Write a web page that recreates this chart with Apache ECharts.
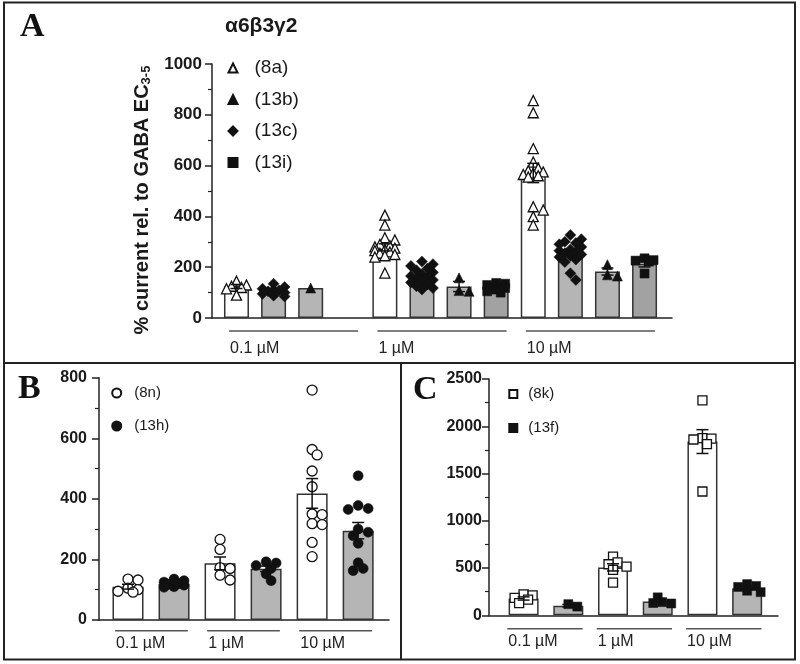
<!DOCTYPE html>
<html><head><meta charset="utf-8">
<script src="https://cdn.jsdelivr.net/npm/echarts@6/dist/echarts.min.js"></script>
<style>html,body{margin:0;padding:0;background:#fff}#c{width:800px;height:664px}</style>
</head><body><div id="c"></div>
<script>
// ---------- DATA ----------
const concLabels = ['0.1 µM', '1 µM', '10 µM'];

// Panel A (α6β3γ2): per concentration [0.1, 1, 10 µM]
const A_8a_pts = [[130,145,125,120,115,90],
  [405,366,316,307,290,285,280,275,270,265,260,255,250,245,240,177],
  [856,808,667,614,590,580,575,570,565,560,555,438,425,399,366]];
const A_8a_mean = [124, 278, 571];
const A_8a_sem  = [8, 14, 38];
const A_13c_pts = [[135,122,115,110,108,105,100,95,88,85],
  [222,212,205,195,188,180,172,165,160,155,150,145,140,132,125,118,112],
  [327,310,300,295,290,280,270,265,260,255,250,245,240,230,220,176,150]];
const A_13c_mean = [107, 163, 256];
const A_13c_sem  = [5, 7, 12];
const A_13b_pts = [[118], [158,108,105], [210,170,165]];
const A_13b_mean = [118, 124, 183];
const A_13b_sem  = [0, 20, 14];
const A_13i_pts = [[], [138,135,130,126,122,118,112,105,100], [235,228,226,222,175]];
const A_13i_mean = [null, 122, 214];
const A_13i_sem  = [null, 4, 13];

// Panel B
const B_8n_pts = [[135,132,105,100,95,92],[266,233,173,170,148,132],
  [759,563,545,492,440,350,348,318,315,256,209]];
const B_8n_mean = [110, 187, 418];
const B_8n_sem  = [8, 21, 49];
const B_13h_pts = [[135,130,125,120,118,115,110,108],[192,188,180,170,152,130],
  [476,378,368,365,300,290,278,253,189,170,163]];
const B_13h_mean = [119, 169, 295];
const B_13h_sem  = [4, 9, 27];

// Panel C
const C_8k_pts = [[222,210,185,165,128],[620,560,540,515,480,345],[2274,1875,1870,1860,1810,1310]];
const C_8k_mean = [178, 507, 1838];
const C_8k_sem  = [17, 38, 126];
const C_13f_pts = [[118,92],[190,140,130,125],[330,310,300,260,245]];
const C_13f_mean = [102, 146, 287];
const C_13f_sem  = [13, 15, 17];

// ---------- LAYOUT / STYLE ----------
const FONT = '"Liberation Sans", Arial, sans-serif';
const INK = '#1a1a1a';
const GRAY = '#b5b5b5', DGRAY = '#a2a2a2';

const panels = [
  { grid:{left:212, top:64, width:460, height:254}, xMin:0.34, xMax:12.74, yMax:1000, interval:200,
    barW:25, tickFont:17, labelMargin:10, lineDy:13, labelDy:31, startOff:-0.2, endOff:0.28,
    compounds:[
      {name:'(8a)',  pts:A_8a_pts,  mean:A_8a_mean,  sem:A_8a_sem,  bar:'#ffffff', symbol:'triangle', open:true,  size:10},
      {name:'(13c)', pts:A_13c_pts, mean:A_13c_mean, sem:A_13c_sem, bar:GRAY,      symbol:'diamond',  open:false, size:11},
      {name:'(13b)', pts:A_13b_pts, mean:A_13b_mean, sem:A_13b_sem, bar:GRAY,      symbol:'triangle', open:false, size:10},
      {name:'(13i)', pts:A_13i_pts, mean:A_13i_mean, sem:A_13i_sem, bar:DGRAY,     symbol:'rect',     open:false, size:9}
    ],
    legend:{data:['(8a)','(13b)','(13c)','(13i)'], iconX:232, top:58, itemW:9, gap:11.5, font:19, pad:12}
  },
  { grid:{left:99, top:377.7, width:290, height:242.3}, xMin:0.37, xMax:6.67, yMax:800, interval:200,
    barW:31, tickFont:16, labelMargin:12, lineDy:10.7, labelDy:24, startOff:-0.28, endOff:0.30,
    compounds:[
      {name:'(8n)',  pts:B_8n_pts,  mean:B_8n_mean,  sem:B_8n_sem,  bar:'#ffffff', symbol:'circle', open:true,  size:10},
      {name:'(13h)', pts:B_13h_pts, mean:B_13h_mean, sem:B_13h_sem, bar:GRAY,      symbol:'circle', open:false, size:10}
    ],
    legend:{data:['(8n)','(13h)'], iconX:115.7, top:385, itemW:9, gap:17, font:15, pad:8}
  },
  { grid:{left:489, top:379, width:289, height:236.3}, xMin:0.226, xMax:6.69, yMax:2500, interval:500,
    barW:30, tickFont:16, labelMargin:7, lineDy:13.4, labelDy:26.4, startOff:-0.365, endOff:0.32,
    compounds:[
      {name:'(8k)',  pts:C_8k_pts,  mean:C_8k_mean,  sem:C_8k_sem,  bar:'#ffffff', symbol:'rect', open:true,  size:9},
      {name:'(13f)', pts:C_13f_pts, mean:C_13f_mean, sem:C_13f_sem, bar:GRAY,      symbol:'rect', open:false, size:9}
    ],
    legend:{data:['(8k)','(13f)'], iconX:512.3, top:386, itemW:8, gap:18, font:15, pad:6}
  }
];

// simple beeswarm for horizontal spread of points (layout only)
function swarm(vals, pxY, pxX, sym, maxOff) {
  const idx = vals.map((v, i) => i).sort((a, b) => vals[b] - vals[a]);
  const placed = [], offs = new Array(vals.length).fill(0);
  const step = sym * 0.5, minD = sym * 0.7;
  for (const i of idx) {
    let best = 0, bestC = Infinity;
    for (let k = 0; k < 14; k++) {
      const m = k === 0 ? 0 : (k % 2 ? Math.ceil(k / 2) : -Math.ceil(k / 2));
      const off = m * step;
      if (Math.abs(off) > maxOff) continue;
      let c = 0;
      for (const p of placed) {
        const d = Math.hypot(off - p.o, (vals[i] - p.v) * pxY);
        if (d < minD) c += (minD - d);
      }
      if (c === 0) { best = off; bestC = 0; break; }
      if (c < bestC) { bestC = c; best = off; }
    }
    placed.push({o: best, v: vals[i]});
    offs[i] = best / pxX;
  }
  return offs;
}

function errRender(params, api) {
  const x = api.value(0), m = api.value(1), s = api.value(2);
  if (!s) return null;
  const t = api.coord([x, m + s]), b = api.coord([x, m - s]);
  const cw = 6, st = {stroke: '#111', lineWidth: 1.5};
  return {type: 'group', children: [
    {type: 'line', shape: {x1: t[0], y1: t[1], x2: b[0], y2: b[1]}, style: st},
    {type: 'line', shape: {x1: t[0] - cw, y1: t[1], x2: t[0] + cw, y2: t[1]}, style: st},
    {type: 'line', shape: {x1: b[0] - cw, y1: b[1], x2: b[0] + cw, y2: b[1]}, style: st}
  ]};
}

const grids = [], xAxes = [], yAxes = [], series = [], legends = [];
panels.forEach((P, gi) => {
  grids.push(P.grid);
  xAxes.push({gridIndex: gi, type: 'value', min: P.xMin, max: P.xMax,
    axisLine: {show: true, onZero: false, lineStyle: {color: '#222', width: 1.5}},
    axisTick: {show: false}, axisLabel: {show: false}, splitLine: {show: false}});
  const y = {gridIndex: gi, type: 'value', min: 0, max: P.yMax, interval: P.interval,
    axisLine: {show: true, lineStyle: {color: '#222', width: 1.5}},
    axisTick: {show: true, length: 7, lineStyle: {color: '#222', width: 1.5}},
    minorTick: {show: true, splitNumber: 2, length: 4, lineStyle: {color: '#222', width: 1.2}},
    splitLine: {show: false},
    axisLabel: {fontFamily: FONT, fontWeight: 'bold', fontSize: P.tickFont, color: INK, margin: P.labelMargin,
      formatter: v => String(v)}};
  if (gi === 0) {
    Object.assign(y, {
      name: '{a|% current rel. to GABA EC}{s|3-5}', nameLocation: 'middle', nameRotate: 90, nameGap: 50,
      nameTextStyle: {fontFamily: FONT, fontWeight: 'bold', color: INK, padding: [0, 18, 0, 0], rich: {
        a: {fontFamily: FONT, fontWeight: 'bold', fontSize: 20, lineHeight: 22, color: INK, verticalAlign: 'middle'},
        s: {fontFamily: FONT, fontWeight: 'bold', fontSize: 13, lineHeight: 8, color: INK, verticalAlign: 'bottom'}
      }}
    });
  }
  yAxes.push(y);

  const nC = P.compounds.length;
  const pxX = P.grid.width / (P.xMax - P.xMin);
  const pxY = P.grid.height / P.yMax;
  const barData = [], errData = [];
  P.compounds.forEach((c, k) => {
    const sData = [];
    for (let g = 0; g < 3; g++) {
      const pos = g * nC + k + 1;
      if (c.mean[g] != null) {
        barData.push({value: [pos, c.mean[g]], itemStyle: {color: c.bar}});
        errData.push([pos, c.mean[g], c.sem[g]]);
      }
      const vals = c.pts[g];
      const offs = swarm(vals, pxY, pxX, c.size, P.barW / 2 - 1);
      vals.forEach((v, i) => sData.push([pos + offs[i], v]));
    }
    series.push({type: 'scatter', name: c.name, xAxisIndex: gi, yAxisIndex: gi, z: 3,
      symbol: c.symbol, symbolSize: c.size, symbolKeepAspect: true, data: sData, silent: true,
      itemStyle: c.open ? {color: '#ffffff', borderColor: '#111', borderWidth: 1.3, opacity: 1}
                        : {color: '#111', borderColor: '#111', borderWidth: 0.5, opacity: 1}});
  });
  series.unshift({type: 'bar', xAxisIndex: gi, yAxisIndex: gi, barWidth: P.barW, z: 1, silent: true,
    itemStyle: {borderColor: '#333', borderWidth: 1.5}, data: barData});
  series.push({type: 'custom', xAxisIndex: gi, yAxisIndex: gi, z: 5, silent: true,
    renderItem: errRender, encode: {x: 0, y: 1}, data: errData});
  const groupData = [0, 1, 2].map(g => [g * nC + 1 + P.startOff, g * nC + nC + P.endOff, g]);
  series.push({type: 'custom', xAxisIndex: gi, yAxisIndex: gi, clip: false, silent: true,
    encode: {x: [0, 1], y: -1}, data: groupData,
    renderItem: (params, api) => {
      const a = api.coord([api.value(0), 0]), b = api.coord([api.value(1), 0]);
      const ly = a[1] + P.lineDy;
      return {type: 'group', children: [
        {type: 'line', shape: {x1: a[0], y1: ly, x2: b[0], y2: ly}, style: {stroke: '#555', lineWidth: 1.5}},
        {type: 'text', x: a[0] + 1, y: a[1] + P.labelDy, style: {text: concLabels[api.value(2)],
          font: '16px ' + FONT, fill: '#222', verticalAlign: 'middle', align: 'left'}}
      ]};
    }});
  const L = P.legend;
  legends.push({data: L.data, orient: 'vertical', left: L.iconX - L.itemW / 2, top: L.top,
    itemWidth: L.itemW, itemHeight: L.itemW, itemGap: L.gap + (11 - L.itemW) * 0, selectedMode: false,
    padding: 0, textStyle: {fontFamily: FONT, fontSize: L.font, color: INK, lineHeight: L.font + 1,
      padding: [0, 0, 0, L.pad]}});
});

const option = {
  animation: false,
  backgroundColor: '#ffffff',
  title: {text: 'α6β3γ2', left: 225, top: 16, padding: 0,
    textStyle: {fontFamily: FONT, fontWeight: 'bold', fontSize: 21, color: INK}},
  grid: grids, xAxis: xAxes, yAxis: yAxes, legend: legends, series: series,
  graphic: [
    {type: 'rect', shape: {x: 4, y: 2.5, width: 791, height: 657}, style: {fill: 'none', stroke: '#222', lineWidth: 2}, silent: true},
    {type: 'line', shape: {x1: 4, y1: 363, x2: 795, y2: 363}, style: {stroke: '#222', lineWidth: 2}, silent: true},
    {type: 'line', shape: {x1: 401, y1: 363, x2: 401, y2: 659.5}, style: {stroke: '#222', lineWidth: 2}, silent: true},
    {type: 'text', x: 20, y: 27, style: {text: 'A', font: 'bold 34px "Liberation Serif", serif', fill: '#111', verticalAlign: 'middle'}, silent: true},
    {type: 'text', x: 18, y: 389, style: {text: 'B', font: 'bold 34px "Liberation Serif", serif', fill: '#111', verticalAlign: 'middle'}, silent: true},
    {type: 'text', x: 413, y: 390.5, style: {text: 'C', font: 'bold 34px "Liberation Serif", serif', fill: '#111', verticalAlign: 'middle'}, silent: true}
  ]
};
const chart = echarts.init(document.getElementById('c'));
chart.setOption(option);
</script></body></html>
